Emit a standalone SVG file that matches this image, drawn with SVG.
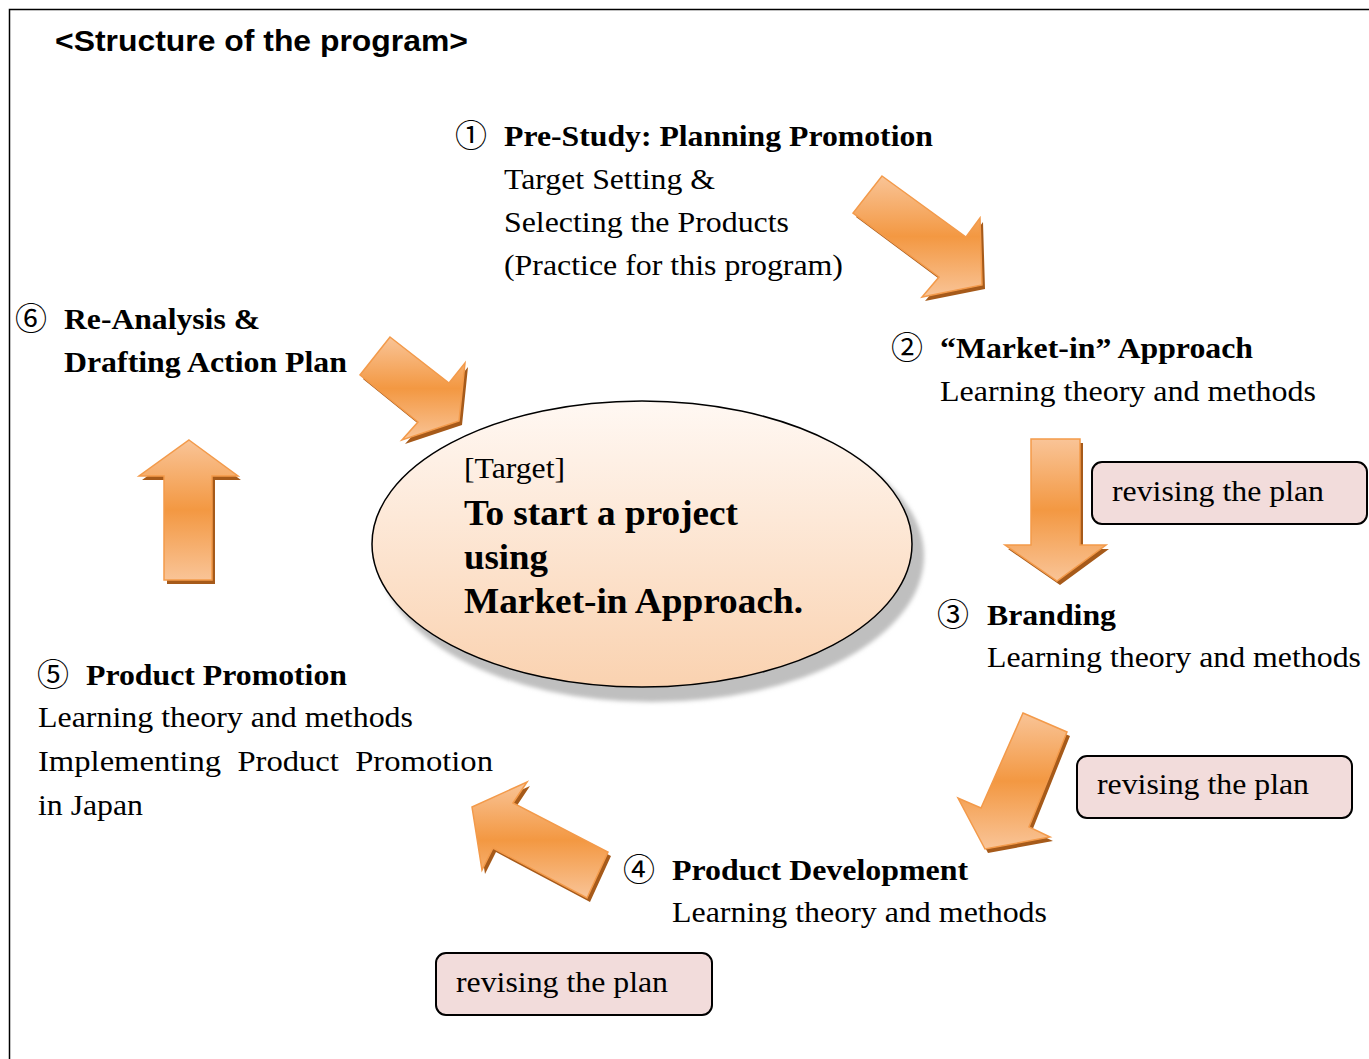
<svg xmlns="http://www.w3.org/2000/svg" width="1369" height="1059" viewBox="0 0 1369 1059">
<defs>
<linearGradient id="ag" x1="0" y1="0" x2="0" y2="1">
<stop offset="0" stop-color="#f9c497"/>
<stop offset="0.5" stop-color="#f39842"/>
<stop offset="1" stop-color="#f9c497"/>
</linearGradient>
<linearGradient id="eg" x1="0" y1="0" x2="0" y2="1">
<stop offset="0" stop-color="#fff8f3"/>
<stop offset="1" stop-color="#fad2b0"/>
</linearGradient>
<filter id="blur" x="-10%" y="-10%" width="120%" height="120%"><feGaussianBlur stdDeviation="2"/></filter>
</defs>
<style>
.t{font-family:"Liberation Serif","Times New Roman",serif;fill:#000}
.r{font-size:29px}
.b{font-size:30px;font-weight:bold}
.e{font-size:35px;font-weight:bold}
.c{font-family:"Noto Sans CJK JP","DejaVu Sans",sans-serif;font-size:32px;font-weight:normal}
.arr{fill:url(#ag);stroke:#f39a4a;stroke-width:1.5;stroke-linejoin:miter}
.sh{fill:#a65a1a}
.box{fill:#f2dcdb;stroke:#000;stroke-width:2}
</style>
<rect width="1369" height="1059" fill="#fff"/>
<path d="M9.5,1059 V9.5 H1369" fill="none" stroke="#000" stroke-width="1.5"/>
<text x="55" y="51" font-family="Liberation Sans, Arial, sans-serif" font-weight="bold" font-size="29" textLength="413" lengthAdjust="spacingAndGlyphs">&lt;Structure of the program&gt;</text>

<g id="connectors">
<g transform="translate(3,4)" class="sh">
<polygon points="882,176 966,237 980,218 982,285 922,297 939,277 853,213"/>
<polygon points="390,337 449,383 465,363 459,421 402,440 418,422 360,375"/>
<polygon points="189,440 238,476 212,476 212,580 164,580 164,476 139,476"/>
<polygon points="1031,439 1080,439 1080,545 1106,545 1057,581 1005,545 1031,545"/>
<polygon points="1023,713 1067,732 1029,827 1050,837 985,849 958,798 981,808"/>
<polygon points="527,782 513,803 608,852 587,898 493,848 482,870 472,807"/>
</g>
<polygon class="arr" points="882,176 966,237 980,218 982,285 922,297 939,277 853,213"/>
<polygon class="arr" points="390,337 449,383 465,363 459,421 402,440 418,422 360,375"/>
<polygon class="arr" points="189,440 238,476 212,476 212,580 164,580 164,476 139,476"/>
<polygon class="arr" points="1031,439 1080,439 1080,545 1106,545 1057,581 1005,545 1031,545"/>
<polygon class="arr" points="1023,713 1067,732 1029,827 1050,837 985,849 958,798 981,808"/>
<polygon class="arr" points="527,782 513,803 608,852 587,898 493,848 482,870 472,807"/>
</g>

<g id="target">
<ellipse cx="652" cy="556" rx="272" ry="146" fill="#bfbfbf" filter="url(#blur)"/>
<ellipse cx="642" cy="544" rx="270" ry="143" fill="url(#eg)" stroke="#000" stroke-width="1.5"/>
<text class="t r" x="464" y="478" textLength="101" lengthAdjust="spacingAndGlyphs">[Target]</text>
<text class="t e" x="464" y="525" textLength="274" lengthAdjust="spacingAndGlyphs">To start a project</text>
<text class="t e" x="464" y="569" textLength="84" lengthAdjust="spacingAndGlyphs">using</text>
<text class="t e" x="464" y="613" textLength="339" lengthAdjust="spacingAndGlyphs">Market-in Approach.</text>
</g>

<g id="step1">
<text class="t c" x="455" y="147">①</text>
<text class="t b" x="504" y="146" textLength="429" lengthAdjust="spacingAndGlyphs">Pre-Study: Planning Promotion</text>
<text class="t r" x="504" y="189" textLength="211" lengthAdjust="spacingAndGlyphs">Target Setting &amp;</text>
<text class="t r" x="504" y="232" textLength="285" lengthAdjust="spacingAndGlyphs">Selecting the Products</text>
<text class="t r" x="504" y="275" textLength="339" lengthAdjust="spacingAndGlyphs">(Practice for this program)</text>
</g>

<g id="step2">
<text class="t c" x="891" y="359">②</text>
<text class="t b" x="940" y="358" textLength="313" lengthAdjust="spacingAndGlyphs">“Market-in” Approach</text>
<text class="t r" x="940" y="401" textLength="376" lengthAdjust="spacingAndGlyphs">Learning theory and methods</text>
</g>

<g id="step3">
<text class="t c" x="937" y="626">③</text>
<text class="t b" x="987" y="625" textLength="129" lengthAdjust="spacingAndGlyphs">Branding</text>
<text class="t r" x="987" y="667" textLength="374" lengthAdjust="spacingAndGlyphs">Learning theory and methods</text>
</g>

<g id="step4">
<text class="t c" x="623" y="881">④</text>
<text class="t b" x="672" y="880" textLength="296" lengthAdjust="spacingAndGlyphs">Product Development</text>
<text class="t r" x="672" y="922" textLength="375" lengthAdjust="spacingAndGlyphs">Learning theory and methods</text>
</g>

<g id="step5">
<text class="t c" x="37" y="686">⑤</text>
<text class="t b" x="86" y="685" textLength="261" lengthAdjust="spacingAndGlyphs">Product Promotion</text>
<text class="t r" x="38" y="727" textLength="375" lengthAdjust="spacingAndGlyphs">Learning theory and methods</text>
<text class="t r" x="38" y="771" xml:space="preserve" textLength="455" lengthAdjust="spacingAndGlyphs">Implementing  Product  Promotion</text>
<text class="t r" x="38" y="815" textLength="105" lengthAdjust="spacingAndGlyphs">in Japan</text>
</g>

<g id="step6">
<text class="t c" x="15" y="330">⑥</text>
<text class="t b" x="64" y="329" textLength="196" lengthAdjust="spacingAndGlyphs">Re-Analysis &amp;</text>
<text class="t b" x="64" y="372" textLength="283" lengthAdjust="spacingAndGlyphs">Drafting Action Plan</text>
</g>

<g id="revise1">
<rect class="box" x="1092" y="462" width="275" height="62" rx="10"/>
<text class="t r" x="1112" y="501" textLength="212" lengthAdjust="spacingAndGlyphs">revising the plan</text>
</g>
<g id="revise2">
<rect class="box" x="1077" y="756" width="275" height="62" rx="10"/>
<text class="t r" x="1097" y="794" textLength="212" lengthAdjust="spacingAndGlyphs">revising the plan</text>
</g>
<g id="revise3">
<rect class="box" x="436" y="953" width="276" height="62" rx="10"/>
<text class="t r" x="456" y="992" textLength="212" lengthAdjust="spacingAndGlyphs">revising the plan</text>
</g>
</svg>
